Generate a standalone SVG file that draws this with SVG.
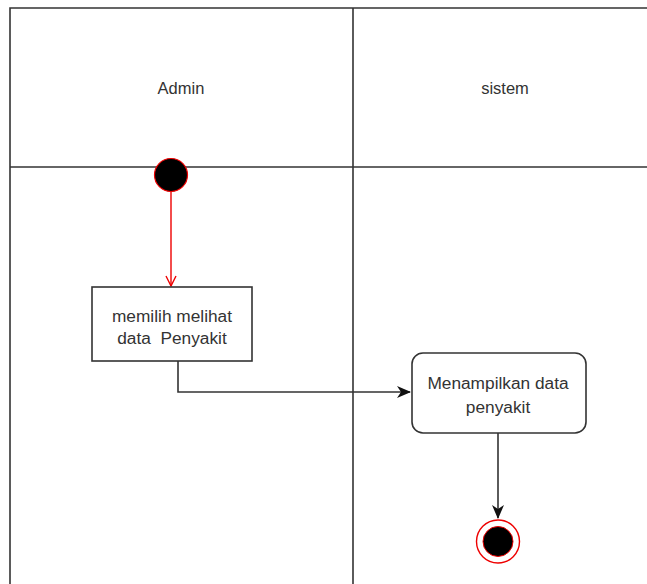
<svg xmlns="http://www.w3.org/2000/svg" width="647" height="584" viewBox="0 0 647 584">
  <style>
    .lane { fill: none; stroke: #333; stroke-width: 1.6; }
    .box { fill: #fff; stroke: #333; stroke-width: 1.6; }
    .label { font-family: "Liberation Sans", Arial, sans-serif; font-size: 16.5px; fill: #333; text-anchor: middle; }
    .node-text { font-size: 17.3px; }
    .flow { fill: none; stroke: #333; stroke-width: 1.6; }
    .flow-red { fill: none; stroke: #e00; stroke-width: 1.4; }
  </style>
  <defs>
    <marker id="open-red" viewBox="0 0 12 12" refX="11" refY="6" markerWidth="12" markerHeight="12" markerUnits="userSpaceOnUse" orient="auto">
      <path d="M1,1 L11,6 L1,11" fill="none" stroke="#e00" stroke-width="1.4"/>
    </marker>
    <marker id="solid" viewBox="0 0 14 12" refX="13" refY="6" markerWidth="14" markerHeight="12" markerUnits="userSpaceOnUse" orient="auto">
      <path d="M0,0 L14,6 L0,12 L4,6 Z" fill="#111"/>
    </marker>
  </defs>

  <rect width="647" height="584" fill="#fff"/>

  <!-- swimlanes -->
  <g id="lanes">
    <path class="lane" d="M10,584 V8 H647"/>
    <path class="lane" d="M353,8 V584"/>
    <path class="lane" d="M10,167 H647"/>
    <text class="label" x="181" y="94">Admin</text>
    <text class="label" x="505" y="94">sistem</text>
  </g>

  <!-- connectors -->
  <g id="connectors">
    <path class="flow-red" d="M171,192 V286" marker-end="url(#open-red)"/>
    <path class="flow" d="M178,361 V392 H410" marker-end="url(#solid)"/>
    <path class="flow" d="M498,433 V518" marker-end="url(#solid)"/>
  </g>

  <g id="start">
    <circle cx="171" cy="175" r="16.5" fill="#000" stroke="#e00" stroke-width="1.2"/>
  </g>

  <g id="pilih-data">
    <rect class="box" x="92" y="287" width="160" height="74"/>
    <text class="label node-text" x="172" y="322">memilih melihat</text>
    <text class="label node-text" x="172" y="344" xml:space="preserve">data  Penyakit</text>
  </g>

  <g id="tampil-data">
    <rect class="box" x="412" y="353" width="174" height="80" rx="11" ry="11"/>
    <text class="label node-text" x="498" y="389">Menampilkan data</text>
    <text class="label node-text" x="498" y="413">penyakit</text>
  </g>

  <g id="end">
    <circle cx="498" cy="541.5" r="21.5" fill="#fff" stroke="#e00" stroke-width="1.4"/>
    <circle cx="498" cy="541.5" r="15" fill="#000" stroke="#e00" stroke-width="1"/>
  </g>
</svg>
